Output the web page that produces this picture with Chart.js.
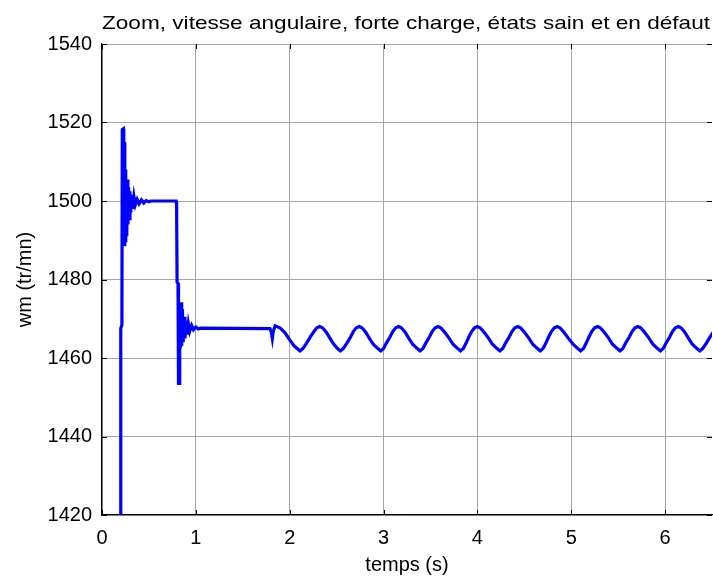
<!DOCTYPE html>
<html>
<head>
<meta charset="utf-8">
<script src="https://cdn.jsdelivr.net/npm/chart.js@4/dist/chart.umd.min.js"></script>
<style>
  html, body { margin: 0; padding: 0; background: #ffffff; }
  #wrap { width: 713px; height: 580px; }
</style>
</head>
<body>
<div id="wrap"><canvas id="c" width="713" height="580"></canvas></div>
<script>
// Rotor speed wm (tr/mn) versus time (s): start-up, load step, then the
// faulty-state speed ripple.
const timeS = [
  0.195, 0.200, 0.212, 0.216, 0.228, 0.232, 0.238, 0.243, 0.248, 0.253,
  0.258, 0.264, 0.270, 0.276, 0.283, 0.290, 0.298, 0.306, 0.315, 0.325,
  0.340, 0.355, 0.375, 0.395, 0.420, 0.445, 0.470, 0.500, 0.520, 0.790,
  0.795, 0.800, 0.810, 0.815, 0.822, 0.828, 0.835, 0.842, 0.849, 0.857,
  0.865, 0.874, 0.884, 0.895, 0.907, 0.920, 0.935, 0.955, 0.975, 1.000,
  1.025, 1.050, 1.790, 1.805, 1.815, 1.825, 1.845, 1.865, 1.900, 1.950,
  2.000, 2.050, 2.080,
  2.11, 2.14, 2.18, 2.22, 2.26, 2.29, 2.32, 2.35, 2.39, 2.43, 2.47, 2.51,
  2.54, 2.57, 2.61, 2.65, 2.68, 2.71, 2.74, 2.77, 2.81, 2.85, 2.89, 2.94,
  2.97, 3.00, 3.03, 3.07, 3.10, 3.13, 3.16, 3.19, 3.23, 3.27, 3.31, 3.36,
  3.39, 3.42, 3.45, 3.49, 3.52, 3.55, 3.58, 3.61, 3.65, 3.70, 3.74, 3.79,
  3.82, 3.85, 3.88, 3.91, 3.94, 3.97, 4.00, 4.03, 4.07, 4.12, 4.16, 4.21,
  4.24, 4.27, 4.30, 4.34, 4.37, 4.40, 4.43, 4.46, 4.50, 4.55, 4.59, 4.64,
  4.67, 4.70, 4.73, 4.76, 4.79, 4.82, 4.85, 4.88, 4.92, 4.97, 5.02, 5.07,
  5.10, 5.13, 5.16, 5.19, 5.22, 5.25, 5.28, 5.31, 5.35, 5.40, 5.44, 5.49,
  5.52, 5.55, 5.58, 5.62, 5.65, 5.68, 5.71, 5.74, 5.78, 5.83, 5.87, 5.92,
  5.95, 5.98, 6.01, 6.05, 6.08, 6.11, 6.14, 6.17, 6.21, 6.25, 6.29, 6.34,
  6.37, 6.40, 6.44, 6.48, 6.52
];
const speedWm = [
  1380.0, 1467.6, 1468.4, 1518.2, 1518.4, 1489.0, 1515.0, 1488.5, 1508.0, 1489.5,
  1505.0, 1491.0, 1505.5, 1494.0, 1503.5, 1495.5, 1502.5, 1497.0, 1501.5, 1498.0,
  1501.2, 1499.0, 1500.4, 1499.3, 1500.3, 1499.5, 1500.1, 1499.8, 1500.0, 1500.0,
  1499.0, 1479.3, 1479.0, 1453.5, 1453.5, 1474.0, 1462.5, 1474.2, 1463.0, 1472.5,
  1464.0, 1470.5, 1465.0, 1469.5, 1466.0, 1468.8, 1466.8, 1468.3, 1467.2, 1467.9,
  1467.4, 1467.6, 1467.5, 1466.5, 1465.0, 1466.8, 1468.2, 1468.0, 1467.6, 1466.4,
  1464.6, 1463.0, 1462.4,
  1461.8, 1462.4, 1463.8, 1465.4, 1466.8, 1467.7, 1468.0, 1467.7, 1466.6, 1465.0, 1463.5, 1462.4,
  1461.8, 1462.4, 1463.8, 1465.4, 1466.8, 1467.7, 1468.0, 1467.7, 1466.6, 1465.0, 1463.5, 1462.4,
  1461.8, 1462.4, 1463.8, 1465.4, 1466.8, 1467.7, 1468.0, 1467.7, 1466.6, 1465.0, 1463.5, 1462.4,
  1461.8, 1462.4, 1463.8, 1465.4, 1466.8, 1467.7, 1468.0, 1467.7, 1466.6, 1465.0, 1463.5, 1462.4,
  1461.8, 1462.4, 1463.8, 1465.4, 1466.8, 1467.7, 1468.0, 1467.7, 1466.6, 1465.0, 1463.5, 1462.4,
  1461.8, 1462.4, 1463.8, 1465.4, 1466.8, 1467.7, 1468.0, 1467.7, 1466.6, 1465.0, 1463.5, 1462.4,
  1461.8, 1462.4, 1463.8, 1465.4, 1466.8, 1467.7, 1468.0, 1467.7, 1466.6, 1465.0, 1463.5, 1462.4,
  1461.8, 1462.4, 1463.8, 1465.4, 1466.8, 1467.7, 1468.0, 1467.7, 1466.6, 1465.0, 1463.5, 1462.4,
  1461.8, 1462.4, 1463.8, 1465.4, 1466.8, 1467.7, 1468.0, 1467.7, 1466.6, 1465.0, 1463.5, 1462.4,
  1461.8, 1462.4, 1463.8, 1465.4, 1466.8, 1467.7, 1468.0, 1467.7, 1466.6, 1465.0, 1463.5, 1462.4,
  1461.8, 1462.4, 1463.8, 1465.4, 1466.8
];
const xTicks = [0, 1, 2, 3, 4, 5, 6];
const yTicks = [1420, 1440, 1460, 1480, 1500, 1520, 1540];
const titleText = 'Zoom, vitesse angulaire, forte charge, états sain et en défaut';

const FONT = "'Liberation Sans', Arial, sans-serif";

// MATLAB-style inward tick marks on all four sides of the axes box
const inwardTicks = {
  id: 'inwardTicks',
  beforeDatasetsDraw(chart) {
    const { ctx, chartArea: a, scales: { x, y } } = chart;
    const len = 5;
    ctx.save();
    ctx.strokeStyle = '#000';
    ctx.lineWidth = 1;
    ctx.beginPath();
    xTicks.forEach(v => {
      const px = Math.round(x.getPixelForValue(v)) + 0.5;
      ctx.moveTo(px, a.bottom); ctx.lineTo(px, a.bottom - len);
      ctx.moveTo(px, a.top); ctx.lineTo(px, a.top + len);
    });
    yTicks.forEach(v => {
      const py = Math.round(y.getPixelForValue(v)) + 0.5;
      ctx.moveTo(a.left, py); ctx.lineTo(a.left + len, py);
      ctx.moveTo(a.right, py); ctx.lineTo(a.right - len, py);
    });
    ctx.stroke();
    ctx.restore();
  }
};

// Axes title: starts at the left edge of the axes box and runs to the
// right border of the figure, in a horizontally widened face.
const axesTitle = {
  id: 'axesTitle',
  afterDraw(chart) {
    const { ctx, chartArea: a } = chart;
    ctx.save();
    ctx.font = '19px ' + FONT;
    ctx.fillStyle = '#000';
    ctx.textBaseline = 'alphabetic';
    ctx.textAlign = 'left';
    const w = ctx.measureText(titleText).width;
    const span = chart.width - 3 - a.left;
    ctx.translate(a.left, 29);
    ctx.scale(span / w, 1);
    ctx.fillText(titleText, 0, 0);
    ctx.restore();
  }
};

new Chart(document.getElementById('c'), {
  type: 'line',
  data: {
    datasets: [{
      data: timeS.map((t, i) => ({ x: t, y: speedWm[i] })),
      borderColor: '#0000ff',
      borderWidth: 3.2,
      pointRadius: 0,
      tension: 0,
      fill: false
    }]
  },
  options: {
    responsive: false,
    animation: false,
    layout: { padding: { left: 0, right: 1, top: 44, bottom: 0 } },
    plugins: {
      legend: { display: false },
      tooltip: { enabled: false },
      title: { display: false }
    },
    scales: {
      x: {
        type: 'linear',
        min: 0,
        max: 6.5,
        afterBuildTicks: s => { s.ticks = xTicks.map(v => ({ value: v })); },
        afterFit: s => { s.height = 65; },
        ticks: { color: '#000', padding: 11, font: { family: FONT, size: 20 }, maxRotation: 0,
                 callback: v => String(v) },
        grid: { color: '#a6a6a6', lineWidth: 1, drawTicks: false },
        border: { color: '#000', width: 1.3 },
        title: {
          display: true,
          text: 'temps (s)',
          color: '#000',
          font: { family: FONT, size: 20, lineHeight: 1.2 },
          padding: { top: 0, bottom: 3 }
        }
      },
      y: {
        type: 'linear',
        min: 1420,
        max: 1540,
        afterBuildTicks: s => { s.ticks = yTicks.map(v => ({ value: v })); },
        afterFit: s => { s.width = 102; },
        ticks: { color: '#000', padding: 10, font: { family: FONT, size: 20 },
                 callback: v => String(v) },
        grid: { color: '#a6a6a6', lineWidth: 1, drawTicks: false },
        border: { color: '#000', width: 1.3 },
        title: {
          display: true,
          text: 'wm (tr/mn)',
          color: '#000',
          font: { family: FONT, size: 20, lineHeight: 1.2 },
          padding: { top: 13, bottom: 0 }
        }
      }
    }
  },
  plugins: [inwardTicks, axesTitle]
});
</script>
</body>
</html>
